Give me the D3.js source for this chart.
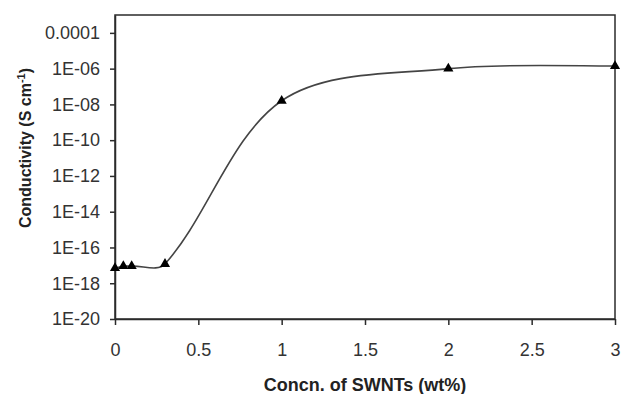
<!doctype html>
<html lang="en">
  <head>
    <meta charset="utf-8">
    <title>Conductivity vs SWNT concentration</title>
    <script src="https://d3js.org/d3.v7.min.js"></script>
    <style>
      body { margin: 0; background: #fff; }
      svg { font-family: "Liberation Sans", Arial, sans-serif; }
    </style>
  </head>
  <body>
    <div id="chart"></div>
    <script>

      // data
      const concn = [0, 0.05, 0.1, 0.3, 1, 2, 3];
      const conductivity = [7e-18, 9e-18, 9e-18, 1.2e-17, 1.6e-8, 1.0e-6, 1.4e-6];

      const xTicks = [0, 0.5, 1, 1.5, 2, 2.5, 3];
      const yTicks = [1e-20, 1e-18, 1e-16, 1e-14, 1e-12, 1e-10, 1e-8, 1e-6, 1e-4];
      const yTickLabels = ["1E-20", "1E-18", "1E-16", "1E-14", "1E-12", "1E-10", "1E-08", "1E-06", "0.0001"];

      const data = concn.map((c, i) => ({x: c, y: conductivity[i]}));

      const W = 621, H = 394;
      const margin = {top: 15, right: 6, bottom: 75, left: 115},
          width = W - margin.left - margin.right,
          height = H - margin.top - margin.bottom;

      const svg = d3.select("#chart")
        .append("svg")
          .attr("width", W)
          .attr("height", H);

      const g = svg.append("g")
          .attr("transform", `translate(${margin.left},${margin.top})`);

      const x = d3.scaleLinear()
        .domain([0, 3])
        .range([0, width]);

      const y = d3.scaleLog()
        .domain([1e-20, 1e-3])
        .range([height, 0]);

      const ink = "#2b2b2b";

      // plot frame
      g.append("rect")
        .attr("x", 0)
        .attr("y", 0)
        .attr("width", width)
        .attr("height", height)
        .attr("fill", "none")
        .attr("stroke", ink)
        .attr("stroke-width", 1.5);

      // X axis
      const xAxis = g.append("g")
        .attr("transform", `translate(0,${height})`)
        .call(d3.axisBottom(x)
          .tickValues(xTicks)
          .tickFormat(d3.format("~g"))
          .tickSize(6)
          .tickPadding(18)
          .tickSizeOuter(0));

      // Y axis
      const yAxis = g.append("g")
        .call(d3.axisLeft(y)
          .tickValues(yTicks)
          .tickFormat((d, i) => yTickLabels[i])
          .tickSize(5)
          .tickPadding(10)
          .tickSizeOuter(0));

      [xAxis, yAxis].forEach(a => {
        a.select(".domain").attr("stroke", ink).attr("stroke-width", 1.5);
        a.selectAll(".tick line").attr("stroke", ink).attr("stroke-width", 1.5);
        a.selectAll(".tick text")
          .attr("fill", "#333")
          .style("font-size", "18px");
      });

      // Excel-like smoothing: bezier handles weighted by segment lengths
      function smoothPath(pts, k) {
        const n = pts.length;
        const dist = (a, b) => Math.hypot(b[0] - a[0], b[1] - a[1]);
        let d = `M${pts[0][0]},${pts[0][1]}`;
        for (let i = 0; i < n - 1; i++) {
          const p0 = pts[Math.max(i - 1, 0)], p1 = pts[i], p2 = pts[i + 1], p3 = pts[Math.min(i + 2, n - 1)];
          const d01 = dist(p0, p1), d12 = dist(p1, p2), d23 = dist(p2, p3);
          const f1 = i === 0 ? k : k * 2 * d12 / (d01 + d12);
          const f2 = i === n - 2 ? k : k * 2 * d12 / (d12 + d23);
          const c1 = [p1[0] + (p2[0] - p0[0]) * f1, p1[1] + (p2[1] - p0[1]) * f1];
          const c2 = [p2[0] - (p3[0] - p1[0]) * f2, p2[1] - (p3[1] - p1[1]) * f2];
          d += `C${c1[0]},${c1[1]},${c2[0]},${c2[1]},${p2[0]},${p2[1]}`;
        }
        return d;
      }

      g.append("path")
        .attr("d", smoothPath(data.map(d => [x(d.x), y(d.y)]), 1 / 6))
        .attr("fill", "none")
        .attr("stroke", "#444")
        .attr("stroke-width", 1.6);

      // triangle markers
      g.selectAll("path.marker")
        .data(data)
        .enter()
        .append("path")
          .attr("class", "marker")
          .attr("d", d3.symbol().type(d3.symbolTriangle).size(45))
          .attr("transform", d => `translate(${x(d.x)},${y(d.y)})`)
          .attr("fill", "#000");

      // axis titles
      svg.append("text")
        .attr("x", margin.left + width / 2)
        .attr("y", 391)
        .attr("text-anchor", "middle")
        .attr("font-weight", "bold")
        .attr("font-size", "18px")
        .attr("fill", "#222")
        .text("Concn. of SWNTs (wt%)");

      const yTitle = svg.append("text")
        .attr("transform", "translate(31,148) rotate(-90)")
        .attr("text-anchor", "middle")
        .attr("font-weight", "bold")
        .attr("font-size", "16px")
        .attr("fill", "#222");
      yTitle.append("tspan").text("Conductivity (S cm");
      yTitle.append("tspan").attr("font-size", "11px").attr("dy", "-6").text("-1");
      yTitle.append("tspan").attr("dy", "6").text(")");

    </script>
  </body>
</html>
